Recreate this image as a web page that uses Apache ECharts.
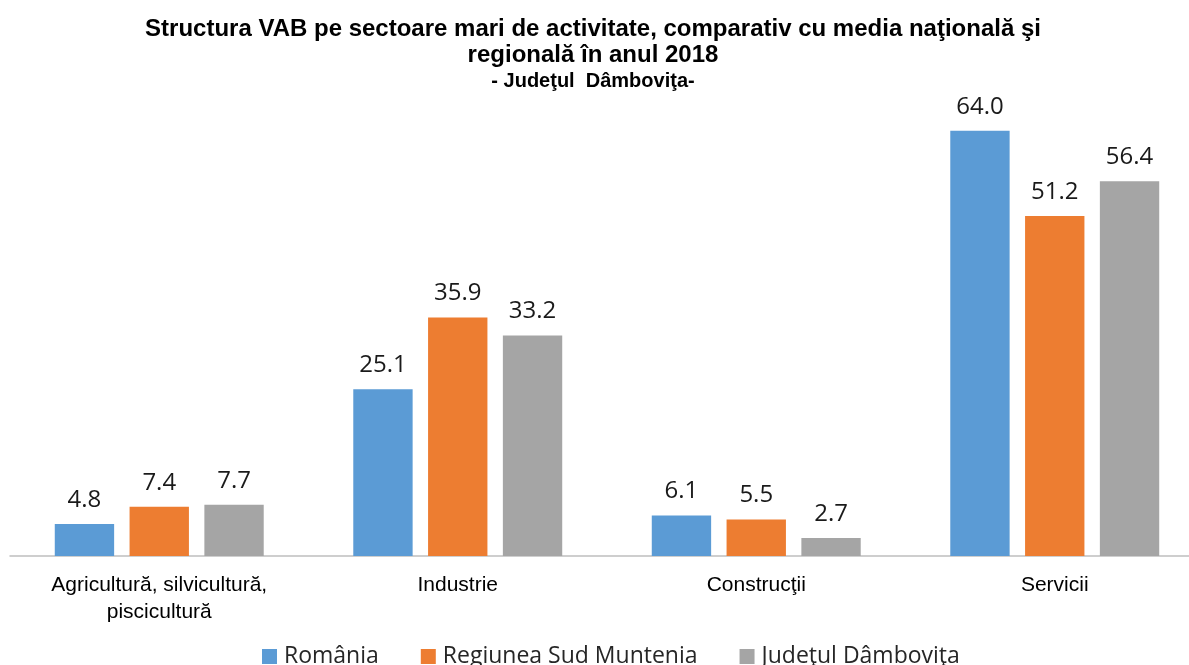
<!DOCTYPE html>
<html><head><meta charset="utf-8">
<script src="https://cdn.jsdelivr.net/npm/echarts@6/dist/echarts.min.js"></script>
<style>html,body{margin:0;padding:0;background:#fff;overflow:hidden}#c{width:1204px;height:665px}</style>
</head><body><div id="c"></div>
<script>
const categories = ['Agricultură, silvicultură,\npiscicultură', 'Industrie', 'Construcţii', 'Servicii'];
const seriesNames = ['România', 'Regiunea Sud Muntenia', 'Judeţul Dâmboviţa'];
const romania = [4.8, 25.1, 6.1, 64.0];
const sudMuntenia = [7.4, 35.9, 5.5, 51.2];
const dambovita = [7.7, 33.2, 2.7, 56.4];
const colors = ['#5B9BD5', '#ED7D31', '#A5A5A5'];
const titleLines = ['Structura VAB pe sectoare mari de activitate, comparativ cu media naţională şi', 'regională în anul 2018'];
const subtitle = '- Judeţul  Dâmboviţa-';

const chart = echarts.init(document.getElementById('c'), null, {renderer: 'canvas'});
const labelCfg = {
  show: true, position: 'top', distance: 12,
  fontFamily: 'Open Sans', fontSize: 24, color: '#1a1a1a',
  formatter: p => p.value.toFixed(1)
};
const mk = (name, data, i) => ({
  name, type: 'bar', data, barGap: '26%', barCategoryGap: '30%',
  itemStyle: {color: colors[i]}, label: labelCfg
});
const tText = (text, y, size) => ({
  type: 'text', x: 593, y: y,
  style: {text: text, textAlign: 'center', textVerticalAlign: 'middle',
    font: 'bold ' + size + 'px "Liberation Sans"', fill: '#000'}
});
chart.setOption({
  animation: false,
  graphic: [tText(titleLines[0], 29, 24), tText(titleLines[1], 55, 24), tText(subtitle, 81, 20)],
  legend: {
    top: 640, left: 257, itemWidth: 15, itemHeight: 15, itemGap: 42,
    icon: 'rect',
    textStyle: {fontFamily: 'Open Sans', fontSize: 23, color: '#262626', padding: [0,0,0,2]},
    data: seriesNames
  },
  grid: {left: 10, right: 0, top: 91, bottom: 109, containLabel: false},
  xAxis: {
    type: 'category', data: categories,
    axisLine: {lineStyle: {color: '#BFBFBF', width: 1.5}},
    axisTick: {show: false},
    axisLabel: {fontFamily: 'Liberation Sans', fontSize: 21, color: '#000', margin: 16, lineHeight: 27, interval: 0}
  },
  yAxis: {type: 'value', min: 0, max: 70, show: false, splitLine: {show: false}},
  series: [mk(seriesNames[0], romania, 0), mk(seriesNames[1], sudMuntenia, 1), mk(seriesNames[2], dambovita, 2)]
});
</script></body></html>
